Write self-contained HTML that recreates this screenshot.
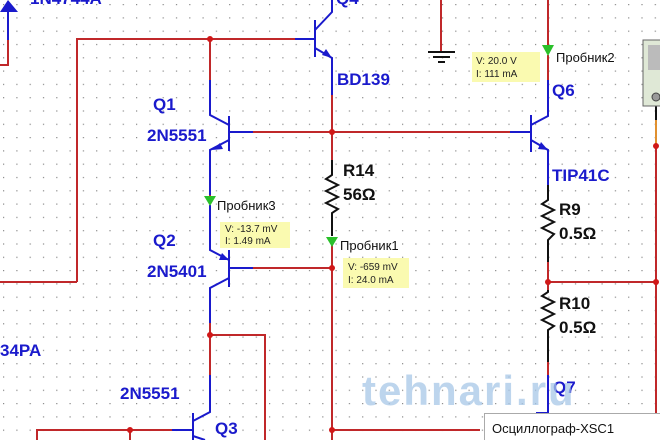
<!DOCTYPE html>
<html><head><meta charset="utf-8"><style>
html,body{margin:0;padding:0;background:#fff;}
svg{display:block;}
text{font-family:"Liberation Sans",sans-serif;}
.lb{fill:#1a1acc;font-weight:bold;font-size:17px;}
.lk{fill:#111;font-weight:bold;font-size:17px;}
.pr{fill:#111;font-size:13px;}
.tt{fill:#222;font-family:"Liberation Sans",sans-serif;font-size:10px;}
</style></head><body>
<svg width="660" height="440" viewBox="0 0 660 440" xmlns="http://www.w3.org/2000/svg">
<defs>
<pattern id="g" x="3" y="4" width="13.3" height="13.3" patternUnits="userSpaceOnUse">
<rect x="0" y="0" width="1.2" height="1.2" fill="#555"/></pattern>
</defs>
<rect width="660" height="440" fill="#fff"/>
<rect width="660" height="440" fill="url(#g)" opacity="0.7"/>
<g fill="none" stroke-width="2">
<path d="M8 8V40" stroke="#1a1acc"/><path d="M8 40V65H0" stroke="#c0282a"/>
<path d="M77 282V39H295" stroke="#c0282a"/><path d="M0 282H77" stroke="#c0282a"/>
<path d="M295 39H315" stroke="#1a1acc"/>
<path d="M315 20V57M332 0V12L315 30M315 48L332 58V95" stroke="#1a1acc"/>
<path d="M332 95V160" stroke="#c0282a"/>
<path d="M210 39V80" stroke="#c0282a"/>
<path d="M210 80V115L229 125M229 116V151M229 140L210 150V195" stroke="#1a1acc"/>
<path d="M210 195V200" stroke="#c0282a"/>
<path d="M210 205V250L229 260M229 250V287M229 278L210 288V323" stroke="#1a1acc"/>
<path d="M210 323V375" stroke="#c0282a"/>
<path d="M210 375V412L193 421M193 413V440M193 436L205 440" stroke="#1a1acc"/>
<path d="M210 335H265V440" stroke="#c0282a"/>
<path d="M229 132H253M229 268H253" stroke="#1a1acc"/>
<path d="M253 132H510M253 268H332" stroke="#c0282a"/>
<path d="M172 430H193" stroke="#1a1acc"/>
<path d="M37 440V430H172M130 430V440" stroke="#c0282a"/>
<path d="M332 160V175L326 179L338 185L326 191L338 197L326 203L338 209L332 213V236" stroke="#111"/>
<path d="M332 245V440M332 430H480" stroke="#c0282a"/>
<path d="M441 0V52" stroke="#c0282a"/>
<path d="M428 52H455M433 57H450M438 62H445" stroke="#111"/>
<path d="M548 0V45M548 55V80" stroke="#c0282a"/>
<path d="M548 80V116L531 125M531 115V152M531 140L548 150V185M510 132H531" stroke="#1a1acc"/>
<path d="M548 185V200L542 204L554 210L542 216L554 222L542 228L554 234L548 240V262" stroke="#111"/>
<path d="M548 262V290M548 282H656" stroke="#c0282a"/>
<path d="M548 290V292L542 296L554 302L542 308L554 314L542 320L554 326L548 330V362" stroke="#111"/>
<path d="M548 362V375" stroke="#c0282a"/>
<path d="M548 375V413L536 413" stroke="#1a1acc"/>
<path d="M656 100V120" stroke="#111"/><path d="M656 120V145" stroke="#e09030"/>
<path d="M656 145V440" stroke="#c0282a"/>
</g>
<polygon points="0,12 8,0 18,12" fill="#1a1acc"/>
<polygon points="332,58 322,55 326,49" fill="#1a1acc"/>
<polygon points="212,150 220,143 223,149" fill="#1a1acc"/>
<polygon points="229,260 219,260 222,253" fill="#1a1acc"/>
<polygon points="548,150 538,149 541,142" fill="#1a1acc"/>
<polygon points="204,196 216,196 210,206" fill="#2ac02a"/>
<polygon points="326,237 338,237 332,247" fill="#2ac02a"/>
<polygon points="542,45 554,45 548,56" fill="#2ac02a"/>
<g fill="#d01818"><circle cx="210" cy="39" r="3"/><circle cx="332" cy="132" r="3"/><circle cx="332" cy="268" r="3"/>
<circle cx="210" cy="335" r="3"/><circle cx="130" cy="430" r="3"/><circle cx="332" cy="430" r="3"/>
<circle cx="548" cy="282" r="3"/><circle cx="656" cy="282" r="3"/><circle cx="656" cy="146" r="3"/></g>
<rect x="643" y="40" width="20" height="66" fill="#dfe8d6" stroke="#666"/>
<rect x="648" y="45" width="14" height="25" fill="#bbb"/>
<circle cx="656" cy="97" r="4" fill="#999" stroke="#444"/>
<rect x="472" y="52" width="68" height="30" fill="#fafab0"/>
<text class="tt" x="476" y="64">V: 20.0 V</text><text class="tt" x="476" y="77">I: 111 mA</text>
<rect x="220" y="222" width="70" height="26" fill="#fafab0"/>
<text class="tt" x="225" y="232">V: -13.7 mV</text><text class="tt" x="225" y="244">I: 1.49 mA</text>
<rect x="343" y="258" width="66" height="30" fill="#fafab0"/>
<text class="tt" x="348" y="270">V: -659 mV</text><text class="tt" x="348" y="283">I: 24.0 mA</text>
<text class="lb" x="30" y="4">1N4744A</text>
<text class="lb" x="336" y="4">Q4</text>
<text class="lb" x="337" y="85">BD139</text>
<text class="lb" x="153" y="110">Q1</text><text class="lb" x="147" y="141">2N5551</text>
<text class="lb" x="153" y="246">Q2</text><text class="lb" x="147" y="277">2N5401</text>
<text class="lb" x="0" y="356">34PA</text>
<text class="lb" x="120" y="399">2N5551</text><text class="lb" x="215" y="434">Q3</text>
<text class="lb" x="552" y="96">Q6</text><text class="lb" x="552" y="181">TIP41C</text>
<text class="lb" x="553" y="393" font-size="15">Q7</text>
<text class="lk" x="343" y="176">R14</text><text class="lk" x="343" y="200">56Ω</text>
<text class="lk" x="559" y="215">R9</text><text class="lk" x="559" y="239">0.5Ω</text>
<text class="lk" x="559" y="309">R10</text><text class="lk" x="559" y="333">0.5Ω</text>
<text class="pr" x="217" y="210">Пробник3</text>
<text class="pr" x="340" y="250">Пробник1</text>
<text class="pr" x="556" y="62">Пробник2</text>
<text x="362" y="405" font-size="42" font-weight="bold" fill="#a8c8e8" opacity="0.75" letter-spacing="2">tehnari.ru</text>
<rect x="484.5" y="413.5" width="180" height="30" fill="#fff" stroke="#aaa"/>
<text x="492" y="433" font-size="13" fill="#111">Осциллограф-XSC1</text>
</svg>
</body></html>
